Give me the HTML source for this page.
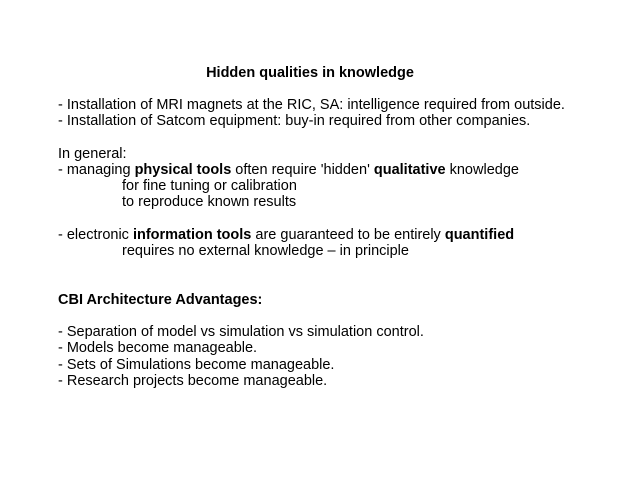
<!DOCTYPE html>
<html><head><meta charset="utf-8"><style>
html,body{margin:0;padding:0;background:#fff;width:640px;height:480px;overflow:hidden}
div{position:absolute;font-family:"Liberation Sans",Arial,sans-serif;font-size:14.5px;line-height:16px;color:#000;white-space:nowrap}
</style></head><body>
<div style="left:0;width:620px;text-align:center;top:65px;font-weight:bold">Hidden qualities in knowledge</div>
<div style="left:58px;top:97px">- Installation of MRI magnets at the RIC, SA: intelligence required from outside.</div>
<div style="left:58px;top:113px">- Installation of Satcom equipment: buy-in required from other companies.</div>
<div style="left:58px;top:146px">In general:</div>
<div style="left:58px;top:162px">- managing <b>physical tools</b> often require 'hidden' <b>qualitative</b> knowledge</div>
<div style="left:122px;top:178px">for fine tuning or calibration</div>
<div style="left:122px;top:194px">to reproduce known results</div>
<div style="left:58px;top:227px">- electronic <b>information tools</b> are guaranteed to be entirely <b>quantified</b></div>
<div style="left:122px;top:243px">requires no external knowledge – in principle</div>
<div style="left:58px;top:292px;font-weight:bold">CBI Architecture Advantages:</div>
<div style="left:58px;top:324px">- Separation of model vs simulation vs simulation control.</div>
<div style="left:58px;top:340px">- Models become manageable.</div>
<div style="left:58px;top:357px">- Sets of Simulations become manageable.</div>
<div style="left:58px;top:373px">- Research projects become manageable.</div>
</body></html>
